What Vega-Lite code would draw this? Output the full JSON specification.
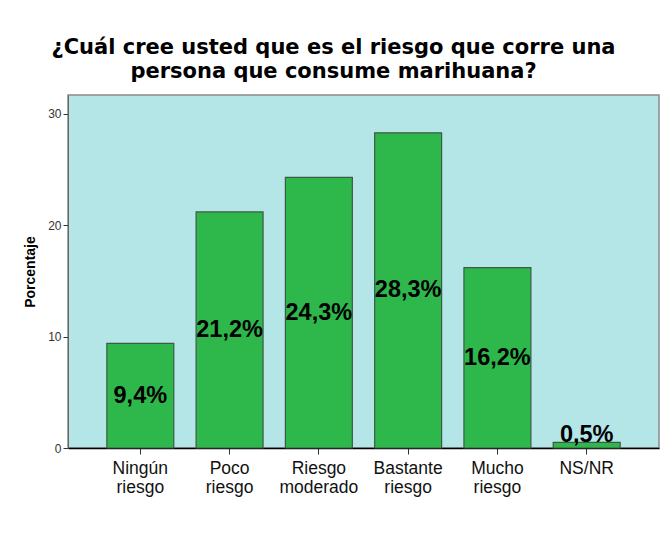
{
  "$schema": "https://vega.github.io/schema/vega-lite/v6.json",
  "width": 591,
  "height": 353,
  "autosize": {"type": "none"},
  "padding": {"left": 68, "top": 95, "right": 2, "bottom": 87},
  "background": "white",
  "title": {
    "text": ["¿Cuál cree usted que es el riesgo que corre una", "persona que consume marihuana?"],
    "font": "DejaVu Sans",
    "fontSize": 21,
    "fontWeight": "bold",
    "color": "#000000",
    "anchor": "middle",
    "dx": -30,
    "offset": 13,
    "lineHeight": 24
  },
  "config": {
    "view": {"fill": "#b4e6e8", "stroke": "#8a8a8a", "strokeWidth": 1.5},
    "font": "Liberation Sans"
  },
  "data": {
    "values": [
      {"cat": "Ningún riesgo", "pct": 9.4, "label": "9,4%"},
      {"cat": "Poco riesgo", "pct": 21.2, "label": "21,2%"},
      {"cat": "Riesgo moderado", "pct": 24.3, "label": "24,3%"},
      {"cat": "Bastante riesgo", "pct": 28.3, "label": "28,3%"},
      {"cat": "Mucho riesgo", "pct": 16.2, "label": "16,2%"},
      {"cat": "NS/NR", "pct": 0.5, "label": "0,5%"}
    ]
  },
  "encoding": {
    "x": {
      "field": "cat",
      "type": "nominal",
      "sort": null,
      "scale": {"paddingInner": 0.25, "paddingOuter": 0.435},
      "axis": {
        "title": null,
        "labelAngle": 0,
        "labelExpr": "split(datum.label, ' ')",
        "labelFont": "Liberation Sans",
        "labelFontSize": 17.5,
        "labelColor": "#111111",
        "labelLineHeight": 19,
        "labelPadding": 5,
        "domainColor": "#000000",
        "domainWidth": 1.5,
        "tickColor": "#333333",
        "tickSize": 6
      }
    }
  },
  "layer": [
    {
      "mark": {"type": "bar", "fill": "#2eb84c", "stroke": "#3c5a45", "strokeWidth": 1.2},
      "encoding": {
        "y": {
          "field": "pct",
          "type": "quantitative",
          "scale": {"domain": [0, 31.7], "nice": false},
          "axis": {
            "values": [0, 10, 20, 30],
            "grid": false,
            "title": "Porcentaje",
            "titleFont": "Liberation Sans",
            "titleFontSize": 14,
            "titleFontWeight": "bold",
            "titleColor": "#000000",
            "titlePadding": 10,
            "labelFont": "Liberation Sans",
            "labelFontSize": 12,
            "labelColor": "#333333",
            "labelPadding": 2,
            "domainColor": "#666666",
            "tickColor": "#333333",
            "tickSize": 5
          }
        }
      }
    },
    {
      "transform": [
        {"filter": "datum.pct >= 2"},
        {"calculate": "datum.pct / 2", "as": "mid"}
      ],
      "mark": {"type": "text", "font": "Liberation Sans", "fontSize": 23.5, "fontWeight": "bold", "color": "#000000", "baseline": "middle"},
      "encoding": {
        "y": {"field": "mid", "type": "quantitative"},
        "text": {"field": "label"}
      }
    },
    {
      "transform": [{"filter": "datum.pct < 2"}],
      "mark": {"type": "text", "font": "Liberation Sans", "fontSize": 23.5, "fontWeight": "bold", "color": "#000000", "baseline": "bottom", "dy": 5},
      "encoding": {
        "y": {"field": "pct", "type": "quantitative"},
        "text": {"field": "label"}
      }
    }
  ]
}
